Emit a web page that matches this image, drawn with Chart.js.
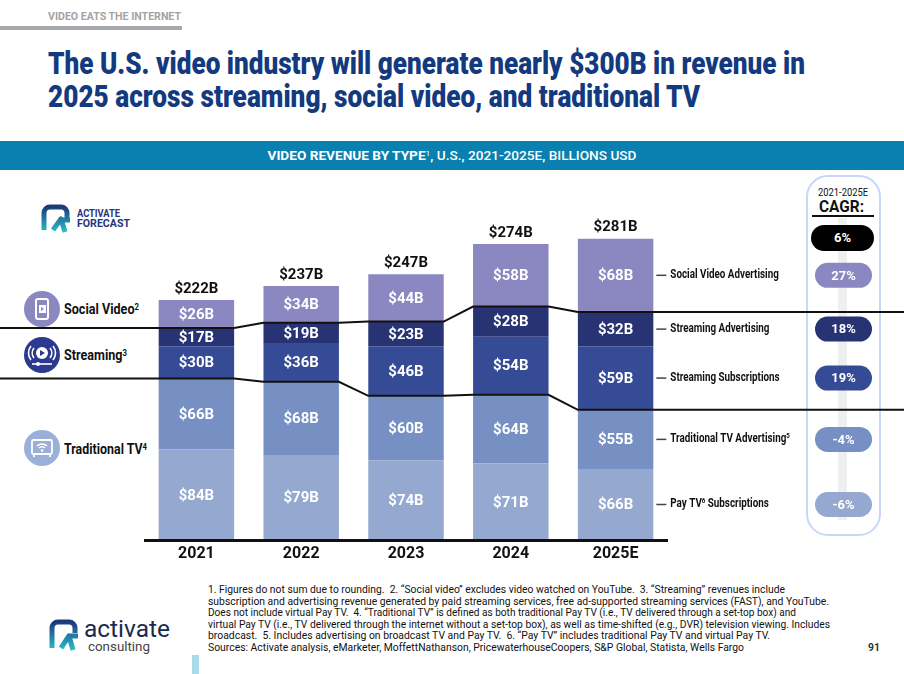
<!DOCTYPE html>
<html>
<head>
<meta charset="utf-8">
<script src="https://cdn.jsdelivr.net/npm/chart.js@4.4.1/dist/chart.umd.min.js"></script>
<style>
  body { margin: 0; background: #fff; }
  #page { position: relative; width: 904px; height: 674px; overflow: hidden; background: #fff;
          font-family: Roboto, "Noto Sans", sans-serif; color: #111; }
  .abs { position: absolute; white-space: nowrap; }
  .fit { display: inline-block; transform-origin: left center; }
  .title { font-size: 31px; line-height: 36px; font-weight: 900; color: #13397f; }
  .fn { font-size: 10.5px; line-height: 12px; color: #111; }
  .leg { font-size: 14px; line-height: 16px; font-weight: 700; color: #111; }
  sup { font-size: 62%; vertical-align: 0; position: relative; top: -0.45em; }
  .icon { position: absolute; width: 36px; height: 36px; border-radius: 50%; }
  #chart { position: absolute; left: 0; top: 170px; }
</style>
</head>
<body>
<div id="page">
  <!-- header -->
  <div class="abs" style="left:48px;top:11px;font-size:11px;line-height:12px;font-weight:700;color:#a3a3a3;">
    <span class="fit" data-w="133">VIDEO EATS THE INTERNET</span></div>
  <div class="abs" style="left:0;top:26px;width:182px;height:4px;background:#a7a9ac;"></div>
  <div class="abs title" style="left:48px;top:46px;"><span class="fit" data-w="757">The U.S. video industry will generate nearly $300B in revenue in</span></div>
  <div class="abs title" style="left:48px;top:79px;"><span class="fit" data-w="652">2025 across streaming, social video, and traditional TV</span></div>

  <div class="abs" style="left:0;top:141px;width:904px;height:29px;background:#0a80b0;text-align:center;line-height:29px;color:#fff;font-size:13px;">
    <span class="fit" data-w="369" style="transform-origin:center center;"><b>VIDEO REVENUE BY TYPE</b><sup>1</sup><span style="font-weight:500">, U.S., 2021-2025E, BILLIONS USD</span></span>
  </div>

  <!-- activate forecast badge -->
  <svg class="abs" style="left:40px;top:204px;" width="32" height="30" viewBox="0 0 32 30">
    <defs><linearGradient id="lg1" x1="0" y1="0" x2="0" y2="1">
      <stop offset="0" stop-color="#1b3a7a"/><stop offset="1" stop-color="#2bbfc6"/></linearGradient></defs>
    <path d="M4 26 V9 a6 6 0 0 1 6-6 h11 a6 6 0 0 1 6 6 v5 M13 26 l8 -11 l4 13 M20 16 h10" fill="none" stroke="url(#lg1)" stroke-width="5" stroke-linejoin="round"/>
  </svg>
  <div class="abs" style="left:77px;top:208px;font-size:11px;line-height:12px;font-weight:700;color:#263479;"><span class="fit" data-w="43">ACTIVATE</span></div>
  <div class="abs" style="left:77px;top:218px;font-size:11px;line-height:12px;font-weight:700;color:#263479;"><span class="fit" data-w="53">FORECAST</span></div>

  <!-- left legend -->
  <div class="icon" style="left:24px;top:291px;background:#8b87c0;">
    <svg width="36" height="36" viewBox="0 0 36 36"><rect x="12" y="8" width="12" height="20" rx="2" fill="none" stroke="#fff" stroke-width="2"/>
      <rect x="15" y="14" width="7" height="8" fill="#fff"/><path d="M17 16 l3 2 l-3 2z" fill="#8b87c0"/></svg></div>
  <div class="abs leg" style="left:64px;top:301px;"><span class="fit" data-w="75">Social Video<sup>2</sup></span></div>

  <div class="icon" style="left:24px;top:337px;background:#2b3a8f;">
    <svg width="36" height="36" viewBox="0 0 36 36"><circle cx="18" cy="16" r="6" fill="#fff"/><path d="M16 13 l5 3 l-5 3z" fill="#2b3a8f"/>
      <path d="M10 11 a8 8 0 0 0 0 10 M26 11 a8 8 0 0 1 0 10 M7 9 a11 11 0 0 0 0 14 M29 9 a11 11 0 0 1 0 14" fill="none" stroke="#fff" stroke-width="1.6"/>
      <path d="M8 27 h20" stroke="#fff" stroke-width="1.6"/><circle cx="14" cy="27" r="2" fill="#fff"/></svg></div>
  <div class="abs leg" style="left:64px;top:347px;"><span class="fit" data-w="63">Streaming<sup>3</sup></span></div>

  <div class="icon" style="left:24px;top:430px;background:#9bb0d8;">
    <svg width="36" height="36" viewBox="0 0 36 36"><rect x="8" y="10" width="20" height="14" rx="1.5" fill="none" stroke="#fff" stroke-width="1.8"/>
      <path d="M13 16 a7 7 0 0 1 10 0 M15 18 a4 4 0 0 1 6 0" fill="none" stroke="#fff" stroke-width="1.5"/><circle cx="18" cy="20.5" r="1.2" fill="#fff"/>
      <path d="M10 24 v3 M26 24 v3" stroke="#fff" stroke-width="1.8"/></svg></div>
  <div class="abs leg" style="left:64px;top:441px;"><span class="fit" data-w="83">Traditional TV<sup>4</sup></span></div>

  <!-- CAGR column -->
  <div class="abs" style="left:806px;top:175px;width:71px;height:357px;border:2px solid #c9d6f7;border-radius:22px;"></div>
  <div class="abs" style="left:838px;top:218px;width:9px;height:302px;background:#eeefef;"></div>
  <div class="abs" style="left:818px;top:187px;font-size:11px;line-height:12px;"><span class="fit" data-w="50">2021-2025E</span></div>
  <div class="abs" style="left:819px;top:197px;font-size:17px;line-height:18px;font-weight:700;"><span class="fit" data-w="45">CAGR:</span></div>
  <div class="abs" style="left:812px;top:215px;width:62px;height:2px;background:#111;"></div>
  <div class="abs" style="left:811px;top:225px;width:63px;height:26px;border-radius:13px;background:#000;color:#fff;font-weight:700;font-size:13px;line-height:26px;text-align:center;" id="totalCagr"></div>

  <canvas id="chart" width="904" height="400"></canvas>

  <!-- footer -->
  <svg class="abs" style="left:48px;top:619px;" width="32" height="33" viewBox="0 0 32 33">
    <defs><linearGradient id="lg2" x1="0" y1="0" x2="0" y2="1">
      <stop offset="0" stop-color="#1b3a7a"/><stop offset="1" stop-color="#2bbfc6"/></linearGradient></defs>
    <path d="M4 29 V9 a6 6 0 0 1 6-6 h11 a6 6 0 0 1 6 6 v5 M13 29 l8 -12 l4 14 M20 17 h10" fill="none" stroke="url(#lg2)" stroke-width="5" stroke-linejoin="round"/>
  </svg>
  <div class="abs" style="left:84px;top:617px;font-size:23px;line-height:26px;color:#1b2a4e;"><span class="fit" data-w="86">activate</span></div>
  <div class="abs" style="left:88px;top:639px;font-size:13px;line-height:15px;color:#444;"><span class="fit" data-w="62">consulting</span></div>

  <div class="abs fn" style="left:208px;top:584px;"><span class="fit" data-w="577">1. Figures do not sum due to rounding.&nbsp; 2. “Social video” excludes video watched on YouTube.&nbsp; 3. “Streaming” revenues include</span></div>
  <div class="abs fn" style="left:208px;top:596px;"><span class="fit" data-w="621">subscription and advertising revenue generated by paid streaming services, free ad-supported streaming services (FAST), and YouTube.</span></div>
  <div class="abs fn" style="left:208px;top:607px;"><span class="fit" data-w="588">Does not include virtual Pay TV.&nbsp; 4. “Traditional TV” is defined as both traditional Pay TV (i.e., TV delivered through a set-top box) and</span></div>
  <div class="abs fn" style="left:208px;top:619px;"><span class="fit" data-w="622">virtual Pay TV (i.e., TV delivered through the internet without a set-top box), as well as time-shifted (e.g., DVR) television viewing. Includes</span></div>
  <div class="abs fn" style="left:208px;top:630px;"><span class="fit" data-w="562">broadcast.&nbsp; 5. Includes advertising on broadcast TV and Pay TV.&nbsp; 6. “Pay TV” includes traditional Pay TV and virtual Pay TV.</span></div>
  <div class="abs fn" style="left:208px;top:642px;"><span class="fit" data-w="536">Sources: Activate analysis, eMarketer, MoffettNathanson, PricewaterhouseCoopers, S&amp;P Global, Statista, Wells Fargo</span></div>
  <div class="abs" style="left:868px;top:642px;font-size:11px;line-height:12px;font-weight:700;color:#333;"><span class="fit" data-w="12">91</span></div>
  <div class="abs" style="left:192px;top:655px;width:7px;height:19px;background:#a9dbe8;"></div>
</div>

<script>
// ---------- data (billions USD) ----------
const years = ["2021", "2022", "2023", "2024", "2025E"];
const totals = [222, 237, 247, 274, 281];

const payTvSubs = [84, 79, 74, 71, 66];
const tradTvAds = [66, 68, 60, 64, 55];
const streamSubs = [30, 36, 46, 54, 59];
const streamAds = [17, 19, 23, 28, 32];
const socialAds = [26, 34, 44, 58, 68];

// "^x^" marks a footnote superscript
const seriesNames = ["Pay TV^6^ Subscriptions", "Traditional TV Advertising^5^",
  "Streaming Subscriptions", "Streaming Advertising", "Social Video Advertising"];
const seriesColors = ["#95a8d0", "#7690c3", "#364b96", "#283373", "#8b87c0"];
const cagrValues = [-6, -4, 19, 18, 27];
const totalCagr = 6;

const yMax = 316;
const SQUEEZE = 0.82; // condensed look for the side labels

document.getElementById("totalCagr").textContent = totalCagr + "%";

// ---------- helpers ----------
function fitText() {
  document.querySelectorAll(".fit").forEach((el) => {
    el.style.transform = "none";
    const w = el.getBoundingClientRect().width;
    const target = +el.dataset.w;
    if (w > 0) el.style.transform = `scaleX(${target / w})`;
  });
}

function drawRich(ctx, str, x, y, size, squeeze) {
  const parts = str.split("^");
  ctx.save();
  ctx.translate(x, y);
  ctx.scale(squeeze, 1);
  ctx.textAlign = "left";
  ctx.textBaseline = "middle";
  let cx = 0;
  parts.forEach((p, i) => {
    const sup = i % 2 === 1;
    ctx.font = `bold ${sup ? size * 0.62 : size}px Roboto`;
    ctx.fillText(p, cx, sup ? -size * 0.28 : 0);
    cx += ctx.measureText(p).width;
  });
  ctx.restore();
}

// ---------- overlay: divider lines, labels, axis, CAGR pills ----------
const overlay = {
  id: "overlay",
  afterDatasetsDraw(chart) {
    const ctx = chart.ctx;
    const area = chart.chartArea;
    const metas = chart.data.datasets.map((_, i) => chart.getDatasetMeta(i));

    // black dividers: social | streaming, streaming | traditional TV
    ctx.save();
    ctx.strokeStyle = "#111";
    ctx.lineWidth = 2;
    [3, 1].forEach((di) => {
      const bars = metas[di].data;
      ctx.beginPath();
      ctx.moveTo(0, bars[0].y);
      bars.forEach((b) => {
        ctx.lineTo(b.x - b.width / 2, b.y);
        ctx.lineTo(b.x + b.width / 2, b.y);
      });
      ctx.lineTo(chart.width, bars[bars.length - 1].y);
      ctx.stroke();
    });
    ctx.restore();

    // baseline
    ctx.save();
    ctx.strokeStyle = "#111";
    ctx.lineWidth = 3;
    ctx.beginPath();
    ctx.moveTo(area.left, area.bottom + 0.5);
    ctx.lineTo(area.right, area.bottom + 0.5);
    ctx.stroke();
    ctx.restore();

    ctx.save();
    ctx.textAlign = "center";
    ctx.textBaseline = "middle";

    // segment values
    ctx.fillStyle = "#fff";
    ctx.font = "bold 15px Roboto";
    metas.forEach((m, di) => {
      m.data.forEach((b, j) => {
        const v = chart.data.datasets[di].data[j];
        ctx.fillText("$" + v + "B", b.x, (b.y + b.base) / 2 + 1);
      });
    });

    // totals on top
    ctx.fillStyle = "#111";
    ctx.font = "bold 15px Roboto";
    const top = metas[metas.length - 1].data;
    top.forEach((b, j) => ctx.fillText("$" + totals[j] + "B", b.x, b.y - 11));

    // year labels
    ctx.font = "bold 16px Roboto";
    top.forEach((b, j) => ctx.fillText(years[j], b.x, area.bottom + 14));
    ctx.restore();

    // right-hand series labels + CAGR pills
    metas.forEach((m, di) => {
      const b = m.data[m.data.length - 1];
      const yMid = (b.y + b.base) / 2;
      const xr = b.x + b.width / 2;
      ctx.save();
      ctx.strokeStyle = "#444";
      ctx.lineWidth = 1.5;
      ctx.beginPath();
      ctx.moveTo(xr + 3, yMid);
      ctx.lineTo(xr + 13, yMid);
      ctx.stroke();
      ctx.fillStyle = "#111";
      drawRich(ctx, seriesNames[di], xr + 17, yMid, 12, SQUEEZE);

      ctx.fillStyle = seriesColors[di];
      ctx.beginPath();
      ctx.roundRect(815, yMid - 12.5, 57, 25, 12.5);
      ctx.fill();
      ctx.fillStyle = "#fff";
      ctx.font = "bold 13px Roboto";
      ctx.textAlign = "center";
      ctx.textBaseline = "middle";
      ctx.fillText(cagrValues[di] + "%", 843.5, yMid + 1);
      ctx.restore();
    });
  },
};

const seriesData = [payTvSubs, tradTvAds, streamSubs, streamAds, socialAds];

new Chart(document.getElementById("chart"), {
  type: "bar",
  data: {
    labels: years,
    datasets: seriesData.map((d, i) => ({
      label: seriesNames[i].replace(/\^\d\^/g, ""),
      data: d,
      backgroundColor: seriesColors[i],
      borderWidth: 0,
      categoryPercentage: 0.72,
      barPercentage: 1,
    })),
  },
  options: {
    responsive: false,
    animation: false,
    layout: { padding: { left: 144, right: 236, top: 30, bottom: 30 } },
    plugins: { legend: { display: false }, tooltip: { enabled: false } },
    scales: {
      x: { stacked: true, display: false },
      y: { stacked: true, display: false, min: 0, max: yMax },
    },
  },
  plugins: [overlay],
});

fitText();
</script>
</body>
</html>
